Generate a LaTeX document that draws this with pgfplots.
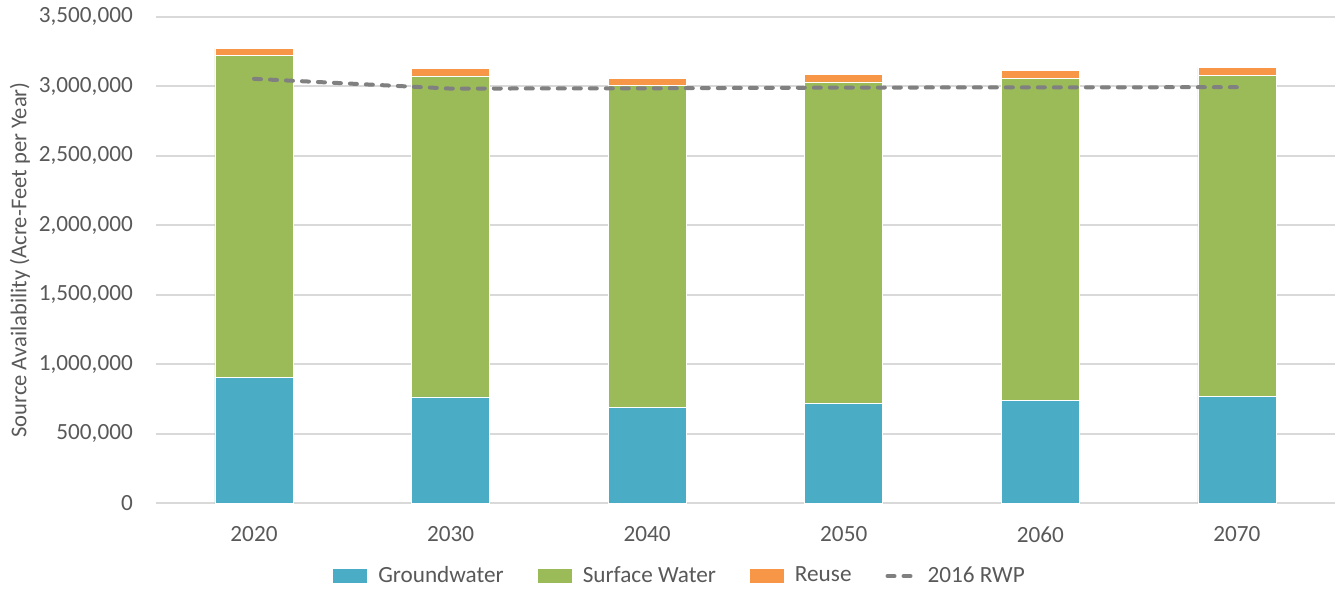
\documentclass[border=0pt]{standalone}
\usepackage{pgfplots}
\pgfplotsset{compat=1.18}
\usepackage{fontspec}
\setmainfont{Carlito}
\definecolor{gwblue}{HTML}{4BACC6}
\definecolor{swgreen}{HTML}{9BBB59}
\definecolor{reuseorange}{HTML}{F79646}
\definecolor{rwpgray}{HTML}{808080}
\definecolor{txtgray}{HTML}{595959}
\definecolor{gridgray}{HTML}{D9D9D9}

% values in acre-feet per year
\pgfplotstableread{
x  gw      sw       reuse
0  908000  2312000  51000
1  766000  2308000  53000
2  689000  2315000  51000
3  718000  2313000  55000
4  742000  2313000  57000
5  769000  2310000  57000
}\supply

\pgfplotstableread{
x  rwp
0  3053000
1  2983000
2  2985000
3  2990000
4  2992000
5  2993000
}\rwp

\pgfplotsset{
  common/.style={
    scale only axis,
    width=589.7pt, height=243.3pt,
    at={(0,0)}, anchor=south west,
    xmin=-0.5, xmax=5.5,
    ymin=0, ymax=3500000,
  },
  barimg/.style={legend image code/.code={
    \fill[#1, draw=none] (0pt,-3.5pt) rectangle (17pt,3.5pt);
    \path[draw=none, fill=none] (0pt,0pt) -- (20.5pt,0pt);}},
}

\begin{document}
\fontsize{11.6}{14}\selectfont
\begin{tikzpicture}
\path[use as bounding box] (-77.85pt,-43.35pt) rectangle (593.6pt,251.65pt);
\begin{axis}[
  common,
  ybar stacked,
  bar width=39pt,
  axis line style={draw=none},
  axis x line*=bottom,
  axis y line*=left,
  major tick length=0pt,
  ymajorgrids,
  grid style={gridgray, line width=0.9pt},
  ytick={0,500000,...,3500000},
  scaled y ticks=false,
  xtick={0,...,5},
  xticklabels={2020,2030,2040,2050,2060,2070},
  /pgf/number format/.cd, fixed, 1000 sep={,}, assume math mode=true,
  /pgfplots/.cd,
  ticklabel style={font=\fontsize{11.6}{14}\selectfont, text=txtgray},
  yticklabel style={xshift=-7.4pt},
  xticklabel style={yshift=-7.6pt},
  ylabel={Source Availability (Acre-Feet per Year)},
  ylabel style={at={(axis description cs:-0.1151,0.5)}, anchor=center,
    font=\fontsize{11.3}{14}\selectfont, text=txtgray},
  legend columns=4,
  legend style={at={(0.4454,-0.1494)}, anchor=center, draw=none,
    font=\fontsize{11.6}{14}\selectfont, text=txtgray,
    /tikz/every even column/.append style={column sep=15pt}},
  legend cell align=left,
]
\addplot[fill=gwblue, draw=white, line width=0.3pt, barimg=gwblue]
  table[x=x, y=gw] {\supply};
\addlegendentry{Groundwater}
\addplot[fill=swgreen, draw=white, line width=0.3pt, barimg=swgreen]
  table[x=x, y=sw] {\supply};
\addlegendentry{Surface Water}
\addplot[fill=reuseorange, draw=white, line width=0.3pt, barimg=reuseorange]
  table[x=x, y=reuse] {\supply};
\addlegendentry{Reuse}
\addlegendimage{legend image code/.code={
  \draw[rwpgray, line width=2pt, line cap=round, dash pattern=on 3.5pt off 4.5pt] (1pt,0pt) -- (17pt,0pt);
  \path[draw=none, fill=none] (0pt,0pt) -- (19pt,0pt);}}
\addlegendentry{2016 RWP}
\end{axis}
\begin{axis}[
  common,
  hide axis,
]
\addplot[rwpgray, line width=2pt, line cap=round, dash pattern=on 3.5pt off 4.5pt, mark=none]
  table[x=x, y=rwp] {\rwp};
\end{axis}
\end{tikzpicture}
\end{document}
